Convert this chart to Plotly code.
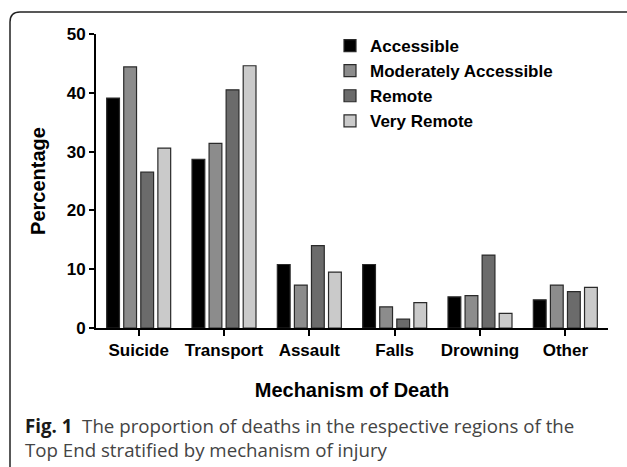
import plotly.graph_objects as go

categories = ["Suicide", "Transport", "Assault", "Falls", "Drowning", "Other"]
accessible = [39.1, 28.7, 10.8, 10.8, 5.3, 4.8]
moderately_accessible = [44.4, 31.4, 7.3, 3.6, 5.5, 7.3]
remote = [26.5, 40.5, 14.0, 1.5, 12.4, 6.2]
very_remote = [30.6, 44.6, 9.5, 4.3, 2.5, 6.9]
series_names = ["Accessible", "Moderately Accessible", "Remote", "Very Remote"]
y_ticks = [0, 10, 20, 30, 40, 50]

colors = ["#000000", "#8c8c8c", "#6b6b6b", "#cacaca"]
FONT = "Liberation Sans, Arial, sans-serif"

W, H = 627, 467
L, R, T, B = 96, 19, 34, 139
PW, PH = W - L - R, H - T - B


def px(x):
    return (x - L) / PW


def py(y):
    return (H - B - y) / PH


fig = go.Figure()
for name, vals, col in zip(series_names,
                           [accessible, moderately_accessible, remote, very_remote],
                           colors):
    fig.add_trace(go.Bar(
        x=categories, y=vals, name=name,
        marker=dict(color=col, line=dict(color="#2a2a2a", width=1.2)),
    ))

# outer rounded frame (top-left corner visible)
frame = (f"M {px(10)},{py(470)} L {px(10)},{py(22)} "
         f"Q {px(10)},{py(12)} {px(20)},{py(12)} L {px(630)},{py(12)}")

cap_font = dict(family="Open Sans, sans-serif", size=18.7, color="#444444")

fig.update_layout(
    width=W, height=H,
    margin=dict(l=L, r=R, t=T, b=B, autoexpand=False),
    paper_bgcolor="white", plot_bgcolor="white",
    font=dict(family=FONT, color="#000000"),
    barmode="group", bargap=0.2, bargroupgap=0.25,
    showlegend=True,
    legend=dict(x=px(330), y=py(28), xanchor="left", yanchor="top",
                font=dict(family=FONT, size=17, color="#000000", weight="bold"),
                bgcolor="rgba(0,0,0,0)", tracegroupgap=0, itemwidth=30),
    xaxis=dict(
        showline=True, linecolor="#000000", linewidth=2,
        ticks="outside", ticklen=6, tickwidth=2, tickcolor="#000000",
        tickfont=dict(family=FONT, size=17, color="#000000", weight="bold"),
        title=dict(text="<b>Mechanism of Death</b>", standoff=24,
                   font=dict(family=FONT, size=20, color="#000000")),
        showgrid=False, zeroline=False, automargin=True,
    ),
    yaxis=dict(
        range=[0, 50], tickvals=y_ticks,
        showline=True, linecolor="#000000", linewidth=2,
        ticks="outside", ticklen=5, tickwidth=2, tickcolor="#000000",
        tickfont=dict(family=FONT, size=17, color="#000000", weight="bold"),
        title=dict(text="<b>Percentage</b>", standoff=16,
                   font=dict(family=FONT, size=20, color="#000000")),
        showgrid=False, zeroline=False, automargin=True,
    ),
    shapes=[dict(type="path", path=frame, xref="paper", yref="paper",
                 line=dict(color="#222222", width=1.5))],
    annotations=[
        dict(x=px(23), y=py(437), xref="paper", yref="paper",
             xanchor="left", yanchor="middle", align="left", showarrow=False,
             text=("<b><span style='color:#1a1a1a'>Fig. 1</span></b>\u00a0\u00a0"
                   "The proportion of deaths in the respective regions of the"
                   "<br>Top End stratified by mechanism of injury"),
             font=cap_font),
    ],
)

fig.write_html("out.html",
               config={"displayModeBar": False},
               post_script="document.body.style.margin='0';document.body.style.overflow='hidden';")
